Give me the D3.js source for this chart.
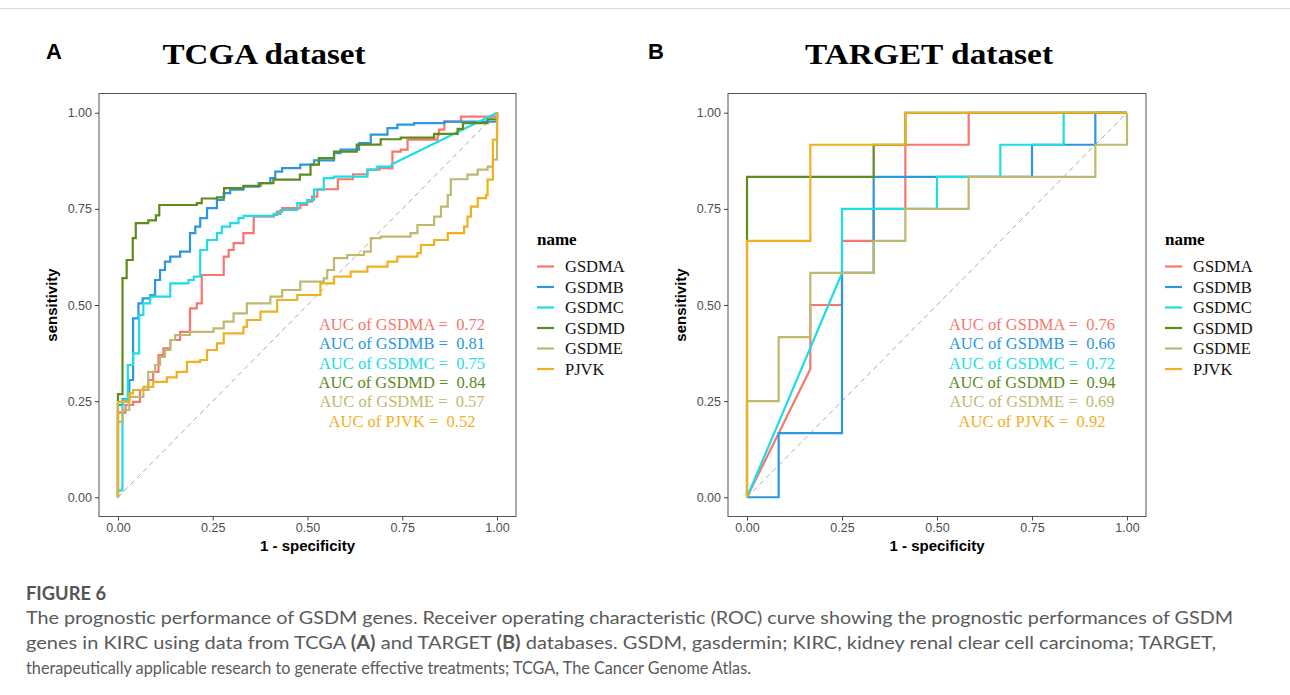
<!DOCTYPE html>
<html>
<head>
<meta charset="utf-8">
<script src="https://cdn.jsdelivr.net/npm/d3@7"></script>
<style>
  body { margin: 0; background: #fff; }
  svg { display: block; }
</style>
</head>
<body>
<svg id="fig" width="1290" height="695"></svg>
<script>
// gene names / colours
const genes = ['GSDMA', 'GSDMB', 'GSDMC', 'GSDMD', 'GSDME', 'PJVK']
const colors = ['#F8766D', '#2B97E0', '#1DDDE6', '#5E8B1B', '#BDBA6D', '#F1B01F']
const ticks = [0, 0.25, 0.5, 0.75, 1]

// TCGA roc points (1 - specificity, sensitivity), drawn as steps
const tcgaGSDMA = [[0,0],[0,0.22],[0.02,0.24],[0.04,0.248],[0.058,0.279],[0.08,0.305],[0.093,0.326],[0.107,0.37],[0.12,0.387],[0.138,0.409],[0.164,0.43],[0.19,0.491],[0.208,0.504],[0.221,0.578],[0.279,0.626],[0.292,0.643],[0.305,0.661],[0.331,0.687],[0.358,0.73],[0.411,0.734],[0.42,0.743],[0.433,0.752],[0.481,0.76],[0.499,0.769],[0.512,0.782],[0.526,0.801],[0.58,0.827],[0.62,0.84],[0.658,0.852],[0.69,0.856],[0.724,0.899],[0.746,0.904],[0.764,0.93],[0.843,0.943],[0.847,0.956],[0.861,0.977],[0.905,0.99],[1,1]]
const tcgaGSDMB = [[0,0],[0,0.24],[0.012,0.255],[0.03,0.305],[0.04,0.465],[0.054,0.504],[0.065,0.517],[0.085,0.526],[0.098,0.565],[0.111,0.591],[0.124,0.613],[0.138,0.626],[0.164,0.639],[0.19,0.687],[0.204,0.704],[0.217,0.726],[0.235,0.752],[0.261,0.773],[0.279,0.791],[0.296,0.8],[0.331,0.808],[0.371,0.817],[0.402,0.83],[0.415,0.847],[0.433,0.856],[0.481,0.865],[0.517,0.876],[0.57,0.895],[0.587,0.904],[0.636,0.921],[0.667,0.943],[0.711,0.96],[0.737,0.969],[0.781,0.973],[0.861,0.977],[1,1]]
const tcgaGSDMC = [[0,0],[0,0.018],[0.012,0.253],[0.026,0.344],[0.04,0.374],[0.056,0.474],[0.067,0.504],[0.085,0.522],[0.138,0.556],[0.186,0.565],[0.2,0.574],[0.217,0.643],[0.235,0.669],[0.261,0.687],[0.274,0.704],[0.296,0.713],[0.318,0.726],[0.331,0.732],[0.411,0.737],[0.429,0.747],[0.473,0.765],[0.499,0.773],[0.517,0.8],[0.543,0.83],[0.57,0.834],[0.658,0.852],[0.684,0.86],[0.72,0.865]]
const tcgaGSDMCTail = [[0.72,0.865],[1,1]]
const tcgaGSDMD = [[0,0],[0,0.268],[0.012,0.57],[0.023,0.617],[0.039,0.674],[0.047,0.713],[0.08,0.72],[0.1,0.733],[0.109,0.76],[0.208,0.765],[0.221,0.777],[0.261,0.78],[0.28,0.804],[0.331,0.81],[0.376,0.817],[0.41,0.826],[0.48,0.839],[0.508,0.865],[0.53,0.882],[0.57,0.899],[0.63,0.917],[0.693,0.931],[0.746,0.935],[0.834,0.945],[0.896,0.958],[0.91,0.973],[0.975,0.983],[1,1]]
const tcgaGSDME = [[0,0],[0,0.196],[0.012,0.227],[0.03,0.261],[0.067,0.28],[0.08,0.326],[0.098,0.344],[0.111,0.365],[0.124,0.383],[0.138,0.409],[0.151,0.422],[0.19,0.43],[0.252,0.439],[0.279,0.457],[0.305,0.478],[0.34,0.504],[0.402,0.522],[0.433,0.539],[0.481,0.561],[0.543,0.569],[0.552,0.591],[0.57,0.622],[0.605,0.63],[0.649,0.639],[0.667,0.674],[0.693,0.678],[0.772,0.687],[0.79,0.708],[0.834,0.73],[0.852,0.756],[0.87,0.786],[0.878,0.827],[0.922,0.839],[0.949,0.852],[0.975,0.86],[0.989,0.878],[1,0.886],[1,1]]
const tcgaPJVK = [[0,0],[0,0.248],[0.03,0.27],[0.04,0.279],[0.067,0.287],[0.093,0.3],[0.129,0.312],[0.155,0.326],[0.182,0.352],[0.217,0.357],[0.235,0.383],[0.261,0.4],[0.279,0.426],[0.331,0.443],[0.34,0.461],[0.376,0.483],[0.42,0.513],[0.473,0.526],[0.534,0.556],[0.57,0.574],[0.614,0.587],[0.658,0.6],[0.711,0.613],[0.737,0.626],[0.79,0.635],[0.799,0.656],[0.834,0.669],[0.87,0.687],[0.913,0.704],[0.922,0.73],[0.931,0.756],[0.949,0.778],[0.971,0.786],[0.975,0.826],[0.989,0.93],[1,1]]
const tcgaAUC = ['0.72', '0.81', '0.75', '0.84', '0.57', '0.52']

// TARGET roc paths (corner points, drawn straight)
const targetGSDMA = [[0,0],[0.1667,0.3333],[0.1667,0.5],[0.25,0.5],[0.25,0.6667],[0.3333,0.6667],[0.3333,0.75],[0.4167,0.75],[0.4167,0.9167],[0.5833,0.9167],[0.5833,1],[1,1]]
const targetGSDMB = [[0,0],[0.0833,0],[0.0833,0.1667],[0.25,0.1667],[0.25,0.5833],[0.3333,0.5833],[0.3333,0.8333],[0.75,0.8333],[0.75,0.9167],[0.9167,0.9167],[0.9167,1],[1,1]]
const targetGSDMC = [[0,0],[0.25,0.5833],[0.25,0.75],[0.5,0.75],[0.5,0.8333],[0.6667,0.8333],[0.6667,0.9167],[0.8333,0.9167],[0.8333,1],[1,1]]
const targetGSDMD = [[0,0],[0,0.8333],[0.3333,0.8333],[0.3333,0.9167],[0.4167,0.9167],[0.4167,1],[1,1]]
const targetGSDME = [[0,0],[0,0.25],[0.0833,0.25],[0.0833,0.4167],[0.1667,0.4167],[0.1667,0.5833],[0.3333,0.5833],[0.3333,0.6667],[0.4167,0.6667],[0.4167,0.75],[0.5833,0.75],[0.5833,0.8333],[0.9167,0.8333],[0.9167,0.9167],[1,0.9167],[1,1]]
const targetPJVK = [[0,0],[0,0.6667],[0.1667,0.6667],[0.1667,0.9167],[0.4167,0.9167],[0.4167,1],[1,1]]
const targetAUC = ['0.76', '0.66', '0.72', '0.94', '0.69', '0.92']

const sans = 'Liberation Sans, Arial, sans-serif'
const serif = 'Liberation Serif, Times New Roman, serif'

let svg = d3.select('#fig')

drawPanel({
  letter: 'A', title: 'TCGA dataset', titleW: 203, left: 99, right: 516, titleX: 264, letterX: 46,
  series: [tcgaGSDMA, tcgaGSDMB, tcgaGSDMC, tcgaGSDMD, tcgaGSDME, tcgaPJVK],
  tails: { 2: tcgaGSDMCTail }, step: true, auc: tcgaAUC, aucX: 402, legendX: 537
})
drawPanel({
  letter: 'B', title: 'TARGET dataset', titleW: 248, left: 728, right: 1146, titleX: 929, letterX: 648,
  series: [targetGSDMA, targetGSDMB, targetGSDMC, targetGSDMD, targetGSDME, targetPJVK],
  tails: {}, step: false, auc: targetAUC, aucX: 1032, legendX: 1165
})

function drawPanel(p) {
  let top = 93.5, bottom = 516.5
  let x = d3.scaleLinear().domain([-0.05, 1.05]).range([p.left, p.right])
  let y = d3.scaleLinear().domain([-0.05, 1.05]).range([bottom, top])
  let g = svg.append('g')

  // letter + title
  g.append('text').attr('x', p.letterX).attr('y', 59)
    .attr('font-family', sans).attr('font-weight', 'bold').attr('font-size', 22)
    .text(p.letter)
  g.append('text').attr('x', p.titleX - p.titleW / 2).attr('y', 64)
    .attr('font-family', serif).attr('font-weight', 'bold').attr('font-size', 30)
    .attr('textLength', p.titleW).attr('lengthAdjust', 'spacingAndGlyphs')
    .text(p.title)

  // diagonal reference
  g.append('line')
    .attr('x1', x(0)).attr('y1', y(0)).attr('x2', x(1)).attr('y2', y(1))
    .attr('stroke', '#aaaaaa').attr('stroke-width', 1).attr('stroke-dasharray', '5,4')

  let stepLine = d3.line().x(d => x(d[0])).y(d => y(d[1])).curve(d3.curveStepAfter)
  let flatLine = d3.line().x(d => x(d[0])).y(d => y(d[1]))

  p.series.forEach((s, i) => {
    g.append('path')
      .attr('d', p.step ? stepLine(s) : flatLine(s))
      .attr('fill', 'none').attr('stroke', colors[i]).attr('stroke-width', 2.2)
    if (p.tails[i]) {
      g.append('path').attr('d', flatLine(p.tails[i]))
        .attr('fill', 'none').attr('stroke', colors[i]).attr('stroke-width', 2.2)
    }
  })

  // panel border
  g.append('rect').attr('x', p.left).attr('y', top)
    .attr('width', p.right - p.left).attr('height', bottom - top)
    .attr('fill', 'none').attr('stroke', '#555').attr('stroke-width', 1)

  let xAxis = d3.axisBottom(x).tickValues(ticks).tickFormat(d3.format('.2f')).tickSize(4).tickPadding(3)
  let yAxis = d3.axisLeft(y).tickValues(ticks).tickFormat(d3.format('.2f')).tickSize(4).tickPadding(3)
  let xa = g.append('g').attr('transform', `translate(0, ${bottom})`).call(xAxis)
  let ya = g.append('g').attr('transform', `translate(${p.left}, 0)`).call(yAxis)
  for (let a of [xa, ya]) {
    a.select('.domain').remove()
    a.selectAll('line').attr('stroke', '#444')
    a.selectAll('text').attr('fill', '#4d4d4d').attr('font-size', 12.5).attr('font-family', sans)
  }

  // axis titles
  g.append('text').attr('x', (p.left + p.right) / 2).attr('y', 551).attr('text-anchor', 'middle')
    .attr('font-family', sans).attr('font-weight', 'bold').attr('font-size', 15)
    .text('1 - specificity')
  g.append('text').attr('transform', `translate(${p.left - 42}, ${(top + bottom) / 2}) rotate(-90)`)
    .attr('text-anchor', 'middle')
    .attr('font-family', sans).attr('font-weight', 'bold').attr('font-size', 15)
    .text('sensitivity')

  // AUC labels
  genes.forEach((name, i) => {
    g.append('text').attr('x', p.aucX).attr('y', 330 + i * 19.3).attr('text-anchor', 'middle')
      .attr('font-family', serif).attr('font-size', 16.5).attr('fill', colors[i])
      .attr('xml:space', 'preserve')
      .text(`AUC of ${name} =  ${p.auc[i]}`)
  })

  // legend
  let lg = g.append('g').attr('transform', `translate(${p.legendX}, 0)`)
  lg.append('text').attr('x', 0).attr('y', 245)
    .attr('font-family', serif).attr('font-weight', 'bold').attr('font-size', 17)
    .text('name')
  genes.forEach((name, i) => {
    let yy = 266.5 + i * 20.5
    lg.append('line').attr('x1', 0).attr('x2', 17).attr('y1', yy).attr('y2', yy)
      .attr('stroke', colors[i]).attr('stroke-width', 2.2)
    lg.append('text').attr('x', 28).attr('y', yy + 5.5)
      .attr('font-family', serif).attr('font-size', 16.5).attr('fill', '#111')
      .text(name)
  })
}

// caption
const capFont = 'Lato, Open Sans, sans-serif'
svg.append('line').attr('x1', 0).attr('x2', 1290).attr('y1', 8.5).attr('y2', 8.5)
  .attr('stroke', '#d9d9d9')
svg.append('text').attr('x', 26).attr('y', 600).attr('font-family', capFont)
  .attr('font-size', 18).attr('fill', '#555').attr('font-weight', 'bold')
  .attr('textLength', 80).attr('lengthAdjust', 'spacingAndGlyphs')
  .text('FIGURE 6')

let capLines = [
  { y: 624, w: 1207, parts: [['The prognostic performance of GSDM genes. Receiver operating characteristic (ROC) curve showing the prognostic performances of GSDM', false]] },
  { y: 649, w: 1190, parts: [['genes in KIRC using data from TCGA ', false], ['(A)', true], [' and TARGET ', false], ['(B)', true], [' databases. GSDM, gasdermin; KIRC, kidney renal clear cell carcinoma; TARGET,', false]] },
  { y: 674, w: 725, parts: [['therapeutically applicable research to generate effective treatments; TCGA, The Cancer Genome Atlas.', false]] }
]
capLines.forEach(l => {
  let t = svg.append('text').attr('x', 26).attr('y', l.y).attr('font-family', capFont)
    .attr('font-size', 18).attr('fill', '#5a5a5a')
    .attr('textLength', l.w).attr('lengthAdjust', 'spacingAndGlyphs')
    .attr('xml:space', 'preserve')
  l.parts.forEach(pt => {
    t.append('tspan').attr('font-weight', pt[1] ? 'bold' : 'normal').text(pt[0])
  })
})
</script>
</body>
</html>
